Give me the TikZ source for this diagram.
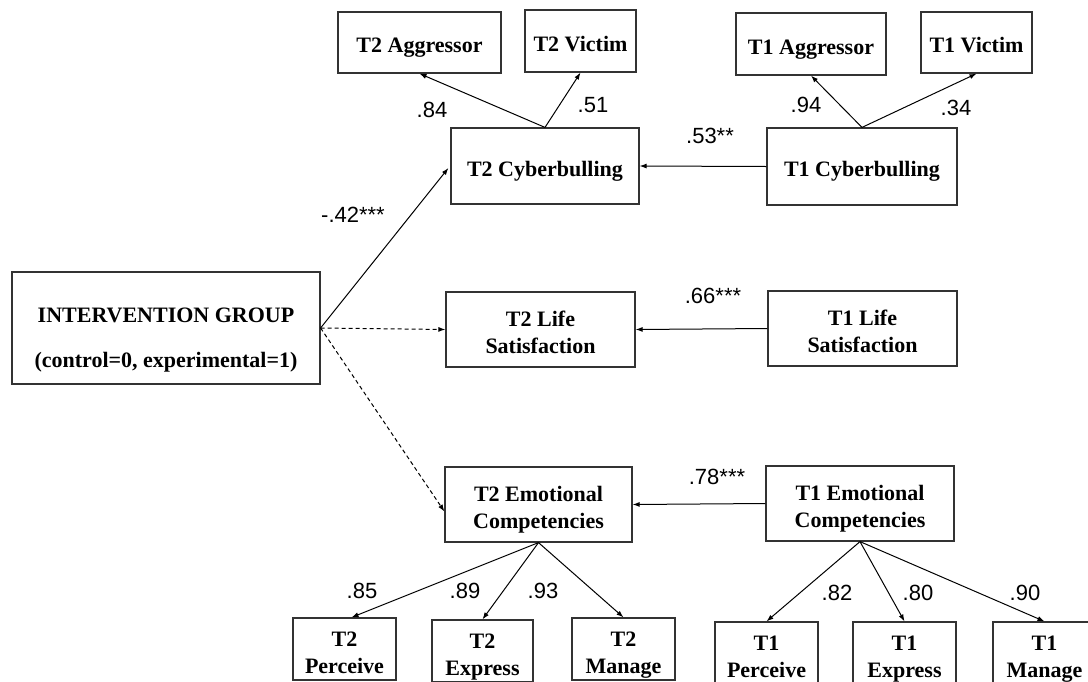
\documentclass[tikz,border=0pt]{standalone}
\usepackage{fontspec}
\setmainfont{Liberation Serif}
\newfontfamily\labfont{Liberation Sans}
\usetikzlibrary{arrows.meta}
% struts that fix the first-line height and last-line depth of two-line boxes
\newcommand\toprule[1]{\rule{0pt}{#1}}
\newcommand\botstrut{\rule[-5pt]{0pt}{5pt}}
\begin{document}
\begin{tikzpicture}[x=1pt,y=-1pt,
  box/.style={draw=black!80,line width=1.2pt,inner sep=0pt,align=center,
    font=\bfseries\fontsize{22}{27}\selectfont},
  onebox/.style={box,text height=20.5pt,text depth=0pt},
  path/.style={line width=1pt,-{Latex[length=7pt,width=5pt]}},
  dpath/.style={path,dash pattern=on 4pt off 3pt},
  coef/.style={font=\labfont\fontsize{22}{26}\selectfont,inner sep=0pt}]
\useasboundingbox (0,0) rectangle (1088,681);
\clip (0,0) rectangle (1088,681);
\fill[white] (0,0) rectangle (1088,681);

% cyberbullying block
\node[onebox,minimum width=163pt,minimum height=61pt] (t2agg) at (419.5,42.5) {T2 Aggressor};
\node[onebox,minimum width=111pt,minimum height=62pt] (t2vic) at (580.5,41) {T2 Victim};
\node[onebox,minimum width=188pt,minimum height=76pt] (t2cyb) at (545,166) {T2 Cyberbulling};
\node[onebox,minimum width=150pt,minimum height=62pt] (t1agg) at (811,44) {T1 Aggressor};
\node[onebox,minimum width=111pt,minimum height=61pt] (t1vic) at (976.5,42.5) {T1 Victim};
\node[onebox,minimum width=190pt,minimum height=77pt] (t1cyb) at (862,166.5) {T1 Cyberbulling};

% predictor
\node[box,minimum width=308pt,minimum height=112pt] (ig) at (166,328)
  {\toprule{39pt}INTERVENTION GROUP\\[18pt](control=0, experimental=1)\botstrut};

% life satisfaction
\node[box,minimum width=189pt,minimum height=75pt] (t2life) at (540.5,329.5) {\toprule{26pt}T2 Life\\Satisfaction\botstrut};
\node[box,minimum width=189pt,minimum height=75pt] (t1life) at (862.5,328.5) {\toprule{26pt}T1 Life\\Satisfaction\botstrut};

% emotional competencies
\node[box,minimum width=187pt,minimum height=75pt] (t2emo) at (538.5,504.5) {\toprule{26pt}T2 Emotional\\Competencies\botstrut};
\node[box,minimum width=188pt,minimum height=75pt] (t1emo) at (860,503.5) {\toprule{26pt}T1 Emotional\\Competencies\botstrut};

\node[box,minimum width=103pt,minimum height=62pt] (t2per) at (344.5,649) {\toprule{26pt}T2\\Perceive\botstrut};
\node[box,minimum width=101pt,minimum height=62pt] (t2exp) at (482.5,651) {\toprule{26pt}T2\\Express\botstrut};
\node[box,minimum width=103pt,minimum height=62pt] (t2man) at (623.5,649) {\toprule{26pt}T2\\Manage\botstrut};
\node[box,minimum width=103pt,minimum height=62pt] (t1per) at (766.5,653) {\toprule{26pt}T1\\Perceive\botstrut};
\node[box,minimum width=103pt,minimum height=62pt] (t1exp) at (904.5,653) {\toprule{26pt}T1\\Express\botstrut};
\node[box,minimum width=103pt,minimum height=62pt] (t1man) at (1044.5,653) {\toprule{26pt}T1\\Manage\botstrut};

% measurement paths
\draw[path] (t2cyb.north) -- (t2agg.south);
\draw[path] (t2cyb.north) -- (t2vic.south);
\draw[path] (t1cyb.north) -- (t1agg.south);
\draw[path] (t1cyb.north) -- (t1vic.south);
\draw[path] (t2emo.south) -- ([xshift=7pt]t2per.north);
\draw[path] (t2emo.south) -- (t2exp.north);
\draw[path] (t2emo.south) -- (t2man.north);
\draw[path] (t1emo.south) -- (t1per.north);
\draw[path] (t1emo.south) -- (t1exp.north);
\draw[path] (t1emo.south) -- (t1man.north);

% structural paths
\draw[path] (t1cyb.west) -- (t2cyb.east);
\draw[path] (t1life.west) -- (t2life.east);
\draw[path] (t1emo.west) -- (t2emo.east);
\draw[path] (ig.east) -- ([xshift=-2pt,yshift=-2pt]t2cyb.west);
\draw[dpath] (ig.east) -- (t2life.west);
\draw[dpath] (ig.east) -- ([yshift=-7pt]t2emo.west);

% coefficients
\node[coef] (c84) at (432,110) {.84};
\node[coef] (c51) at (593,105) {.51};
\node[coef] (c94) at (806,105) {.94};
\node[coef] (c34) at (956,108) {.34};
\node[coef] (c53) at (710,136) {.53**};
\node[coef] (c42) at (353,215) {-.42***};
\node[coef] (c66) at (713,296) {.66***};
\node[coef] (c78) at (717,477) {.78***};
\node[coef] (c85) at (362,591) {.85};
\node[coef] (c89) at (465,591) {.89};
\node[coef] (c93) at (543,591) {.93};
\node[coef] (c82) at (837,593) {.82};
\node[coef] (c80) at (918,593) {.80};
\node[coef] (c90) at (1025,593) {.90};
\end{tikzpicture}
\end{document}
